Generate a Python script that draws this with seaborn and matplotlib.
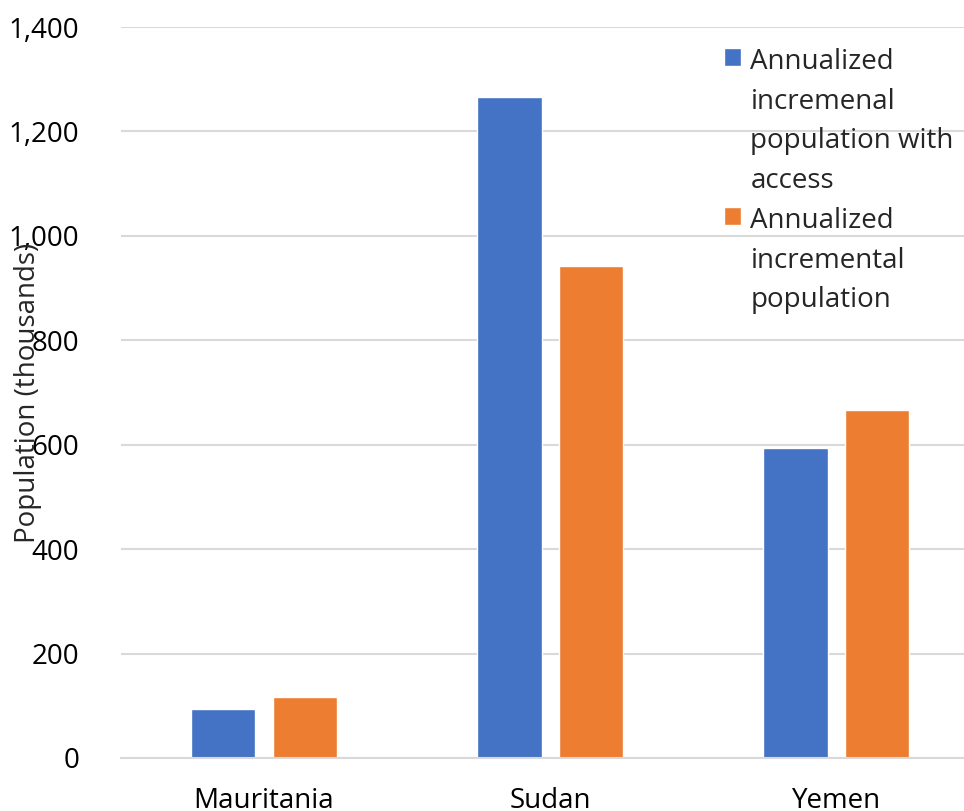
import pandas as pd
import numpy as np
import matplotlib.pyplot as plt
import seaborn as sns

# Values (thousands)
countries = ['Mauritania', 'Sudan', 'Yemen']
access_pop = [93, 1265, 593]
incremental_pop = [117, 942, 666]
series_names = ['Annualized\nincremenal\npopulation with\naccess',
                'Annualized\nincremental\npopulation']
yticks = [0, 200, 400, 600, 800, 1000, 1200, 1400]

df = pd.DataFrame({
    'Country': countries * 2,
    'Population': access_pop + incremental_pop,
    'Series': [series_names[0]] * 3 + [series_names[1]] * 3,
})

sns.set_theme(style='white')
plt.rcParams['font.family'] = ['Open Sans', 'DejaVu Sans']

fig = plt.figure(figsize=(9.64, 8.11), dpi=100)
ax = fig.add_axes([121 / 964, 1 - 758 / 811, 843 / 964, 731 / 811])

sns.barplot(data=df, x='Country', y='Population', hue='Series',
            palette=['#4472C4', '#ED7D31'], width=0.57, gap=0.21,
            saturation=1, ax=ax, errorbar=None)

ax.set_ylim(0, 1400)
ax.set_xlim(-0.5, 2.447)
ax.set_yticks(yticks)
ax.set_yticklabels([f'{v:,}' for v in yticks])
ax.yaxis.grid(True, color='#D9D9D9', linewidth=1.5)
ax.set_axisbelow(True)
for s in ['top', 'right', 'left']:
    ax.spines[s].set_visible(False)
ax.spines['bottom'].set_color('#D9D9D9')
ax.spines['bottom'].set_linewidth(1.5)
ax.tick_params(axis='both', length=0, labelsize=20, colors='black')
ax.tick_params(axis='y', pad=30)
ax.tick_params(axis='x', pad=21)
ax.set_xlabel('')
ax.set_ylabel('Population (thousands)', fontsize=20)
ax.yaxis.set_label_coords(-0.094, 0.5)

leg = ax.legend(loc='upper left', bbox_to_anchor=(724 / 964, 1 - 48 / 811),
                bbox_transform=fig.transFigure, frameon=False, fontsize=20,
                borderpad=0, borderaxespad=0, handlelength=0.62,
                handleheight=0.62, handletextpad=0.33, labelspacing=0.45)
for t in leg.get_texts():
    t.set_linespacing(1.55)
for col in leg._legend_handle_box.get_children():
    for row in col.get_children():
        row.align = 'top'

fig.savefig('out.png', dpi=100)
